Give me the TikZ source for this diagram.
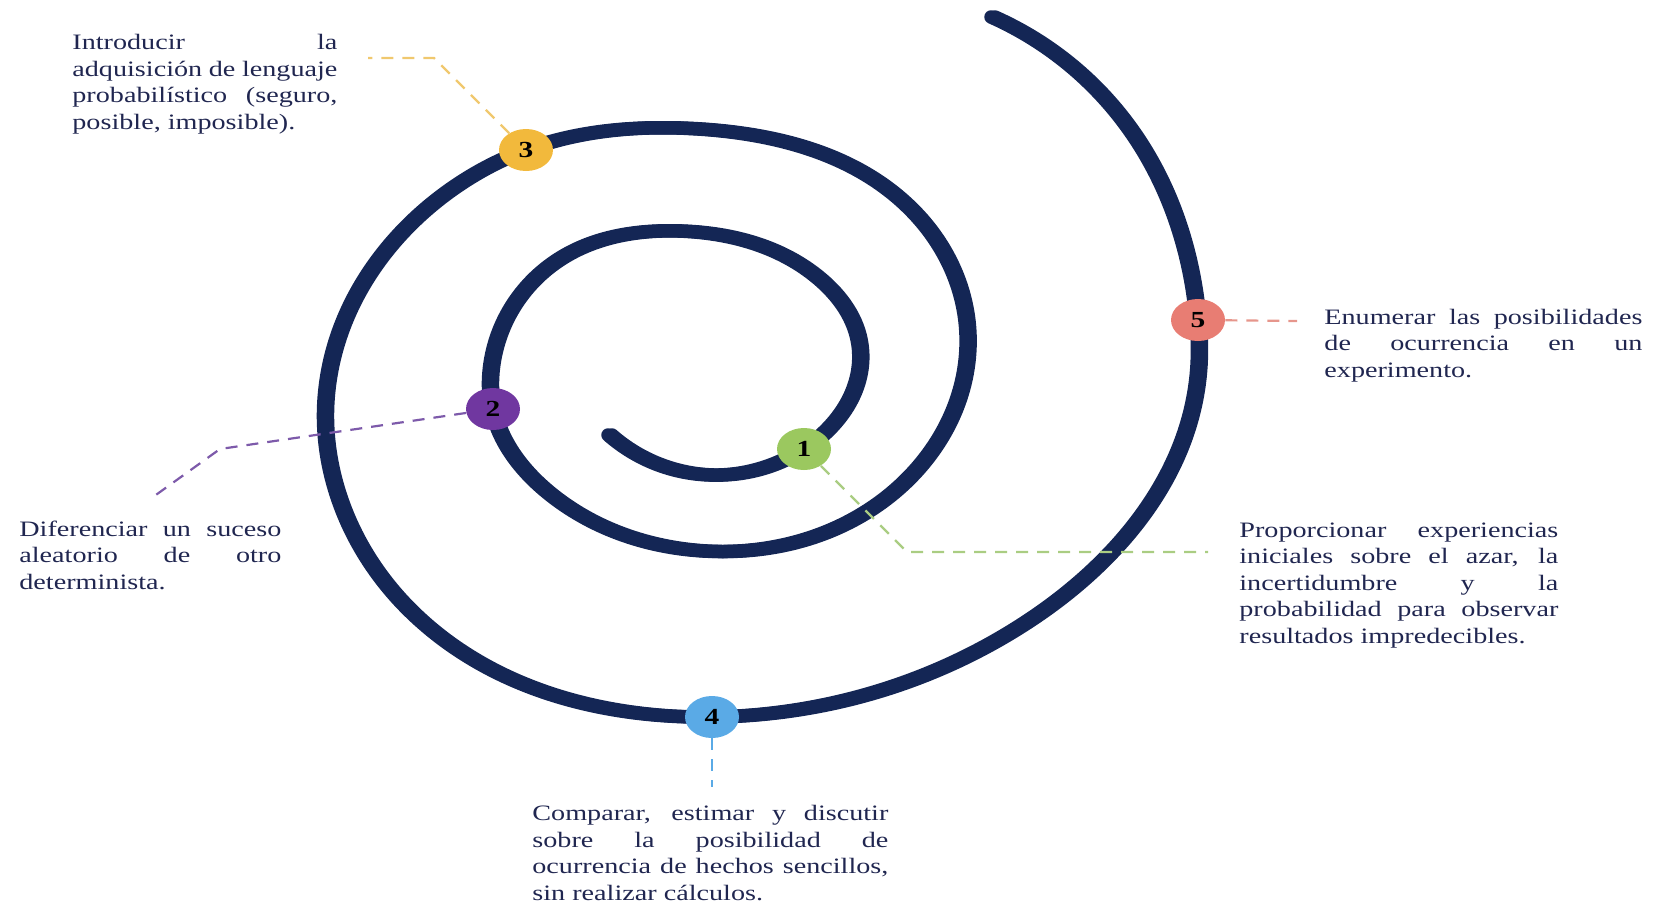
\documentclass[tikz,border=0pt]{standalone}
\usepackage{fontspec}
\setmainfont{Liberation Serif}[FakeStretch=1.28]
\usetikzlibrary{shapes.geometric,hobby}
\definecolor{spiral}{RGB}{20,38,85}
\definecolor{txt}{RGB}{32,38,80}
\definecolor{cuno}{RGB}{155,200,95}
\definecolor{cdos}{RGB}{112,55,160}
\definecolor{ctres}{RGB}{242,185,60}
\definecolor{ccuatro}{RGB}{90,170,230}
\definecolor{ccinco}{RGB}{232,125,115}
\definecolor{luno}{RGB}{170,205,130}
\definecolor{ldos}{RGB}{125,90,170}
\definecolor{ltres}{RGB}{240,200,110}
\definecolor{lcuatro}{RGB}{90,170,230}
\definecolor{lcinco}{RGB}{230,150,140}
\newcommand{\jline}[2]{\makebox[#1][s]{#2}}
\begin{document}
\begin{tikzpicture}[x=0.5pt,y=-0.5pt,
    numdot/.style={ellipse,minimum width=27pt,minimum height=21pt,inner sep=0pt,
      font=\bfseries\fontsize{11.5pt}{13pt}\selectfont},
    lead/.style={line width=1.1pt,dash pattern=on 6pt off 4.5pt},
    desc/.style={anchor=base west,inner sep=0pt,align=left,text=txt,
      font=\fontsize{11pt}{13.25pt}\selectfont}]
  \useasboundingbox (0,0) rectangle (1653,905);
  % spiral, drawn twice a little apart so upright parts come out wider
  \foreach \dx in {-2,2}
    \draw[spiral,line width=6.75pt,line cap=round,xshift=\dx*0.5pt,use Hobby shortcut]
      (610,435) .. (712,475) .. (804,449) .. (860,345) .. (820,279) .. (680,231)
      .. (560,259) .. (491,372) .. (493,409) .. (548,492) .. (705,551)
      .. (877,505) .. (968,335) .. (915,213) .. (700,129) .. (526,150)
      .. (452,189) .. (326,400) .. (340,500) .. (410,610) .. (712,717)
      .. (1030,620) .. (1199,365) .. (1198,320) .. (1133,133) .. (993,17);
  % numbered points
  \node[numdot,fill=cuno] (n1) at (804,449) {1};
  \node[numdot,fill=cdos] (n2) at (493,409) {2};
  \node[numdot,fill=ctres] (n3) at (526,150) {3};
  \node[numdot,fill=ccuatro] (n4) at (712,717) {4};
  \node[numdot,fill=ccinco] (n5) at (1198,320) {5};
  % leaders
  \coordinate (c1) at (907,552);
  \coordinate (e1) at (1208,552);
  \draw[lead,luno] (n1) -- (c1) -- (e1);
  \coordinate (c2) at (220,449);
  \coordinate (e2) at (153,497);
  \draw[lead,ldos] (n2) -- (c2) -- (e2);
  \coordinate (c3) at (434,58);
  \coordinate (e3) at (368,58);
  \draw[lead,ltres] (n3) -- (c3) -- (e3);
  \coordinate (e4) at (712,787);
  \draw[lead,lcuatro] (n4) -- (e4);
  \coordinate (e5) at (1297,321);
  \draw[lead,lcinco] (n5) -- (e5);
  % texts
  \node[desc] (t3) at (72,129) {\jline{132.5pt}{Introducir la}\\
    \jline{132.5pt}{adquisición de lenguaje}\\
    \jline{132.5pt}{probabilístico (seguro,}\\
    posible, imposible).};
  \node[desc] (t5) at (1324,377) {\jline{159pt}{Enumerar las posibilidades}\\
    \jline{159pt}{de ocurrencia en un}\\
    experimento.};
  \node[desc] (t1) at (1239,643) {\jline{159.5pt}{Proporcionar experiencias}\\
    \jline{159.5pt}{iniciales sobre el azar, la}\\
    \jline{159.5pt}{incertidumbre y la}\\
    \jline{159.5pt}{probabilidad para observar}\\
    resultados impredecibles.};
  \node[desc] (t2) at (19,589) {\jline{131pt}{Diferenciar un suceso}\\
    \jline{131pt}{aleatorio de otro}\\
    determinista.};
  \node[desc] (t4) at (532,900) {\jline{178pt}{Comparar, estimar y discutir}\\
    \jline{178pt}{sobre la posibilidad de}\\
    \jline{178pt}{ocurrencia de hechos sencillos,}\\
    sin realizar cálculos.};
\end{tikzpicture}
\end{document}
